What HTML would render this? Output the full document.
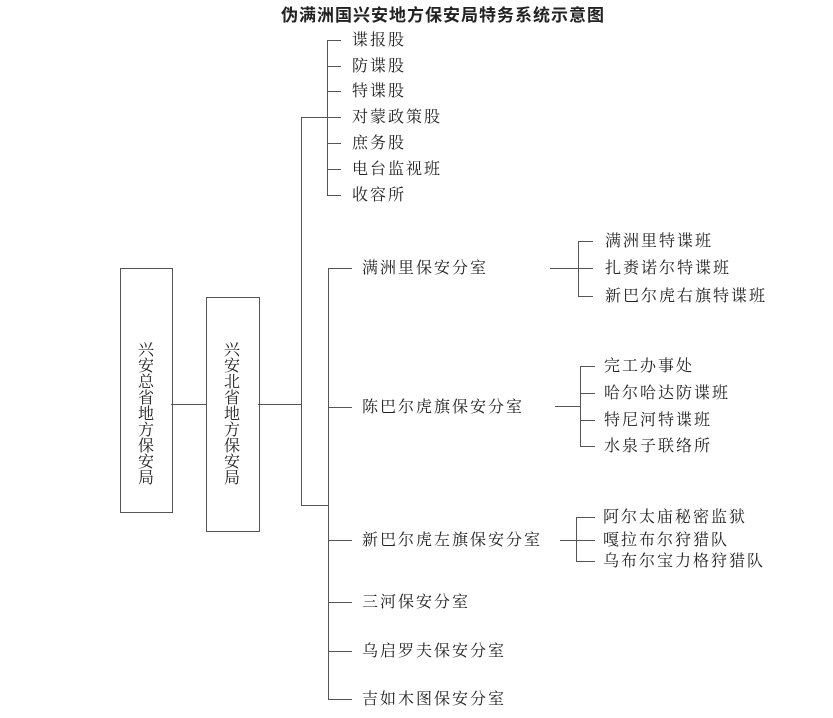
<!DOCTYPE html>
<html><head><meta charset="utf-8"><style>
body{margin:0;background:#fff;}
.wrap{position:relative;width:833px;height:718px;overflow:hidden;font-family:"Liberation Serif","Noto Serif CJK SC","Noto Sans CJK SC",serif;color:#222;}
.t{position:absolute;font-size:16px;line-height:18px;letter-spacing:2px;white-space:nowrap;transform:translateY(-8px);}
.h{position:absolute;height:1px;background:#555;}
.v{position:absolute;width:1px;background:#555;}
.box{position:absolute;border:1px solid #555;}
.vt{position:absolute;font-size:16px;width:18px;text-align:center;line-height:16px;}
</style></head><body><div class="wrap">
<div style="position:absolute;left:0;width:886px;top:1px;text-align:center;font-family:'Liberation Sans','Noto Sans CJK SC',sans-serif;font-weight:bold;font-size:17px;letter-spacing:1px;">伪满洲国兴安地方保安局特务系统示意图</div>

<div class="box" style="left:120px;top:268px;width:51px;height:243px"></div>
<div class="box" style="left:206px;top:297px;width:52px;height:233px"></div>
<div class="vt" style="left:137px;top:343px;">兴安总省地方保安局</div>
<div class="vt" style="left:223px;top:343px;">兴安北省地方保安局</div>
<div class="h" style="left:171px;top:404px;width:35px"></div>
<div class="h" style="left:258px;top:404px;width:43px"></div>

<div class="v" style="left:301px;top:117px;height:389px"></div>
<div class="h" style="left:301px;top:117px;width:27px"></div>
<div class="h" style="left:301px;top:505px;width:27px"></div>

<div class="v" style="left:327px;top:40px;height:156px"></div>
<div class="h" style="left:327px;top:40px;width:14px"></div><div class="t" style="left:352px;top:40px">谍报股</div>
<div class="h" style="left:327px;top:66px;width:14px"></div><div class="t" style="left:352px;top:66px">防谍股</div>
<div class="h" style="left:327px;top:91px;width:14px"></div><div class="t" style="left:352px;top:91px">特谍股</div>
<div class="h" style="left:327px;top:117px;width:14px"></div><div class="t" style="left:352px;top:117px">对蒙政策股</div>
<div class="h" style="left:327px;top:143px;width:14px"></div><div class="t" style="left:352px;top:143px">庶务股</div>
<div class="h" style="left:327px;top:169px;width:14px"></div><div class="t" style="left:352px;top:169px">电台监视班</div>
<div class="h" style="left:327px;top:195px;width:14px"></div><div class="t" style="left:352px;top:195px">收容所</div>

<div class="v" style="left:328px;top:268px;height:432px"></div>
<div class="h" style="left:328px;top:268px;width:24px"></div><div class="t" style="left:362px;top:268px">满洲里保安分室</div>
<div class="h" style="left:328px;top:407px;width:24px"></div><div class="t" style="left:362px;top:407px">陈巴尔虎旗保安分室</div>
<div class="h" style="left:328px;top:540px;width:24px"></div><div class="t" style="left:362px;top:540px">新巴尔虎左旗保安分室</div>
<div class="h" style="left:328px;top:602px;width:24px"></div><div class="t" style="left:362px;top:602px">三河保安分室</div>
<div class="h" style="left:328px;top:651px;width:24px"></div><div class="t" style="left:362px;top:651px">乌启罗夫保安分室</div>
<div class="h" style="left:328px;top:699px;width:24px"></div><div class="t" style="left:362px;top:699px">吉如木图保安分室</div>

<div class="h" style="left:550px;top:268px;width:28px"></div>
<div class="v" style="left:578px;top:241px;height:56px"></div>
<div class="h" style="left:578px;top:241px;width:15px"></div><div class="t" style="left:605px;top:241px">满洲里特谍班</div>
<div class="h" style="left:578px;top:268px;width:15px"></div><div class="t" style="left:605px;top:268px">扎赉诺尔特谍班</div>
<div class="h" style="left:578px;top:296px;width:15px"></div><div class="t" style="left:605px;top:296px">新巴尔虎右旗特谍班</div>

<div class="h" style="left:555px;top:406px;width:25px"></div>
<div class="v" style="left:580px;top:366px;height:81px"></div>
<div class="h" style="left:580px;top:366px;width:15px"></div><div class="t" style="left:604px;top:366px">完工办事处</div>
<div class="h" style="left:580px;top:393px;width:15px"></div><div class="t" style="left:604px;top:393px">哈尔哈达防谍班</div>
<div class="h" style="left:580px;top:420px;width:15px"></div><div class="t" style="left:604px;top:420px">特尼河特谍班</div>
<div class="h" style="left:580px;top:446px;width:15px"></div><div class="t" style="left:604px;top:446px">水泉子联络所</div>

<div class="h" style="left:560px;top:540px;width:35px"></div>
<div class="v" style="left:576px;top:517px;height:45px"></div>
<div class="h" style="left:576px;top:517px;width:19px"></div><div class="t" style="left:603px;top:517px">阿尔太庙秘密监狱</div>
<div class="t" style="left:603px;top:540px">嘎拉布尔狩猎队</div>
<div class="h" style="left:576px;top:561px;width:19px"></div><div class="t" style="left:603px;top:561px">乌布尔宝力格狩猎队</div>
</div></body></html>
